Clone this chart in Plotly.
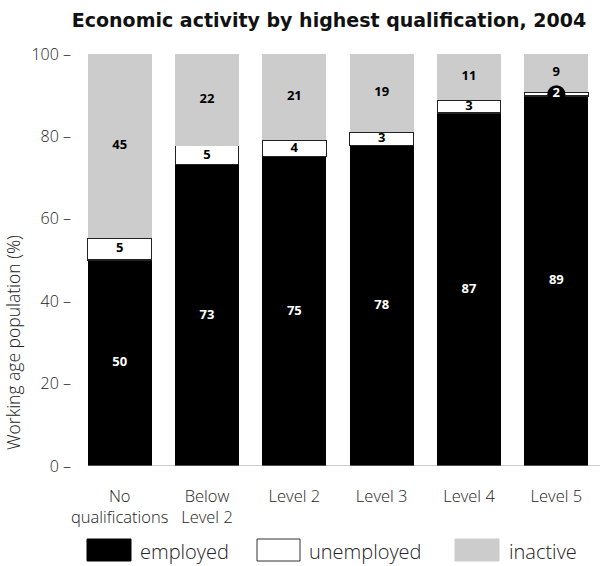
import plotly.graph_objects as go

categories = ["No<br>qualifications", "Below<br>Level 2", "Level 2", "Level 3", "Level 4", "Level 5"]
employed = [50.0, 73.1, 75.1, 77.8, 85.7, 89.8]
unemployed = [5.3, 4.6, 4.0, 3.2, 3.1, 0.9]
inactive = [44.7, 22.3, 20.9, 19.0, 11.2, 9.3]
employed_labels = ["50", "73", "75", "78", "87", "89"]
unemployed_labels = ["5", "5", "4", "3", "3", "2"]
inactive_labels = ["45", "22", "21", "19", "11", "9"]
y_ticks = [0, 20, 40, 60, 80, 100]
y_tick_text = ["0 \u2013", "20 \u2013", "40 \u2013", "60 \u2013", "80 \u2013", "100 \u2013"]

W, H = 601, 566
ML, MR, MT, MB = 76, 1, 54, 100
PW, PH = W - ML - MR, H - MT - MB

def px(xp):
    return (xp - ML) / PW

def py(yp):
    return (H - MB - yp) / PH

LIGHT = "Open Sans"
LW = 300
LC = "#222"
BOLD = "Open Sans"
TITLE = "DejaVu Sans"
BARGAP = 0.27

fig = go.Figure()
fig.add_bar(x=categories, y=employed, marker=dict(color="black", line=dict(width=0)), name="employed")
fig.add_bar(x=categories, y=unemployed, marker=dict(color="white", line=dict(color="#222", width=1.2)), name="unemployed")
fig.add_bar(x=categories, y=inactive, marker=dict(color="#cccccc", line=dict(width=0)), name="inactive")

emp_mid = [e / 2 for e in employed]
une_mid = [e + u / 2 for e, u in zip(employed, unemployed)]
ina_mid = [e + u + i / 2 for e, u, i in zip(employed, unemployed, inactive)]

fig.add_scatter(x=categories, y=emp_mid, mode="text", text=employed_labels,
                textfont=dict(family=BOLD, size=13, color="white", weight=700), hoverinfo="skip")
small = [u < 2 for u in unemployed]
fig.add_scatter(x=categories, y=une_mid, mode="markers+text", text=unemployed_labels,
                marker=dict(size=18, color=["black" if s else "rgba(0,0,0,0)" for s in small], line=dict(width=0)),
                textposition="middle center",
                textfont=dict(family=BOLD, size=13, color=["white" if s else "black" for s in small], weight=700),
                hoverinfo="skip")
fig.add_scatter(x=categories, y=ina_mid, mode="text", text=inactive_labels,
                textfont=dict(family=BOLD, size=13, color="black", weight=700), hoverinfo="skip")

# baseline
half = (1 - BARGAP) / 2
fig.add_shape(type="line", xref="x", yref="y", x0=-half, x1=5.5, y0=0, y1=0,
              line=dict(color="#999", width=1))

# y-axis title
fig.add_annotation(text="Working age population (%)", xref="paper", yref="paper",
                   x=px(13), y=py(343), textangle=-90, showarrow=False,
                   xanchor="center", yanchor="middle",
                   font=dict(family=LIGHT, size=17.5, color=LC, weight=LW))

# legend
items = [("employed", "black", "black", 87, 131, 138),
         ("unemployed", "white", "#333", 257, 300, 307),
         ("inactive", "#cccccc", "#cccccc", 455, 499, 507)]
for name, fill, edge, x0, x1, tx in items:
    fig.add_shape(type="rect", xref="paper", yref="paper", x0=px(x0), x1=px(x1),
                  y0=py(561), y1=py(539), fillcolor=fill, line=dict(color=edge, width=1))
    fig.add_annotation(text=name, xref="paper", yref="paper", x=px(tx), y=py(551),
                       xanchor="left", yanchor="middle", showarrow=False,
                       font=dict(family=LIGHT, size=20, color=LC, weight=LW))

fig.update_layout(
    barmode="stack", bargap=BARGAP, showlegend=False,
    width=W, height=H, margin=dict(l=ML, r=MR, t=MT, b=MB),
    plot_bgcolor="white", paper_bgcolor="white",
    title=dict(text="Economic activity by highest qualification, 2004", x=329 / W, xanchor="center",
               y=1 - 20 / H, yanchor="middle", yref="container",
               font=dict(family=TITLE, size=19, color="#111", weight=700)),
    xaxis=dict(range=[-0.5, 5.5], showgrid=False, zeroline=False, showline=False, ticks="",
               tickfont=dict(family=LIGHT, size=16.5, color=LC, weight=LW), ticklabelstandoff=18),
    yaxis=dict(range=[0, 100], tickvals=y_ticks, ticktext=y_tick_text, showgrid=False, zeroline=False,
               showline=False, ticks="", ticklabelstandoff=4,
               tickfont=dict(family=LIGHT, size=16, color=LC, weight=LW)),
)

fig.write_html("out.html")
